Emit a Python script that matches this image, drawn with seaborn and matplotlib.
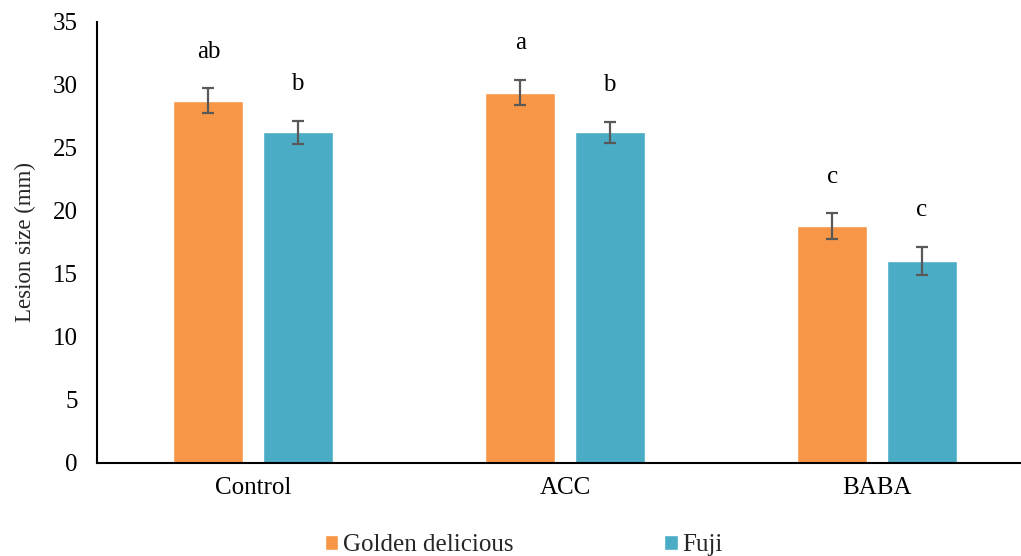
import matplotlib
matplotlib.use("Agg")
import matplotlib.pyplot as plt
import seaborn as sns
import pandas as pd

# data
treatments = ["Control", "ACC", "BABA"]
cultivars = ["Golden delicious", "Fuji"]
golden_mean = [28.75, 29.4, 18.8]
golden_err = [1.0, 1.0, 1.0]
fuji_mean = [26.25, 26.25, 16.05]
fuji_err = [0.9, 0.85, 1.1]
golden_letters = ["ab", "a", "c"]
fuji_letters = ["b", "b", "c"]

colors = {"Golden delicious": "#F79646", "Fuji": "#4BACC6"}

df = pd.DataFrame({
    "Treatment": treatments * 2,
    "Cultivar": [cultivars[0]] * 3 + [cultivars[1]] * 3,
    "Lesion": golden_mean + fuji_mean,
    "Err": golden_err + fuji_err,
    "Letter": golden_letters + fuji_letters,
})

sns.set_theme(style="white")
plt.rcParams["font.family"] = ["Liberation Serif", "DejaVu Serif"]

fig = plt.figure(figsize=(10.21, 5.56), dpi=100)
ax = fig.add_axes([0.095, 0.1673, 0.9168, 0.7932])

sns.barplot(data=df, x="Treatment", y="Lesion", hue="Cultivar", order=treatments,
            hue_order=cultivars, palette=colors, width=0.572, gap=0.217,
            errorbar=None, saturation=1, ax=ax)

# error bars and significance letters, placed on the drawn bars
for container, cult in zip(ax.containers, cultivars):
    sub = df[df["Cultivar"] == cult].set_index("Treatment").loc[treatments]
    for bar, (_, row) in zip(container, sub.iterrows()):
        xc = bar.get_x() + bar.get_width() / 2
        ax.errorbar(xc, row["Lesion"], yerr=row["Err"], color="#595959",
                    capsize=4.5, elinewidth=1.6, capthick=1.6)
        ax.text(xc, row["Lesion"] + row["Err"] + 2.9, row["Letter"],
                ha="center", va="center", fontsize=18, color="black")

ax.set_ylim(0, 35)
ax.set_yticks(range(0, 36, 5))
ax.set_xlim(-0.5, 2.5)
ax.set_xlabel("")
ax.set_ylabel("Lesion size (mm)", fontsize=16.5, labelpad=12)
ax.tick_params(axis="both", labelsize=18, length=0, colors="black")
ax.tick_params(axis="x", pad=10)
ax.tick_params(axis="y", pad=14)
for s in ["top", "right"]:
    ax.spines[s].set_visible(False)
for s in ["left", "bottom"]:
    ax.spines[s].set_color("black")
    ax.spines[s].set_linewidth(1.5)

ax.legend(loc="center", bbox_to_anchor=(0.513, 0.02), bbox_transform=fig.transFigure,
          ncol=2, frameon=False, fontsize=18, handlelength=0.55, handleheight=0.55,
          handletextpad=0.2, columnspacing=6.0)

fig.savefig("out.png", dpi=100)
